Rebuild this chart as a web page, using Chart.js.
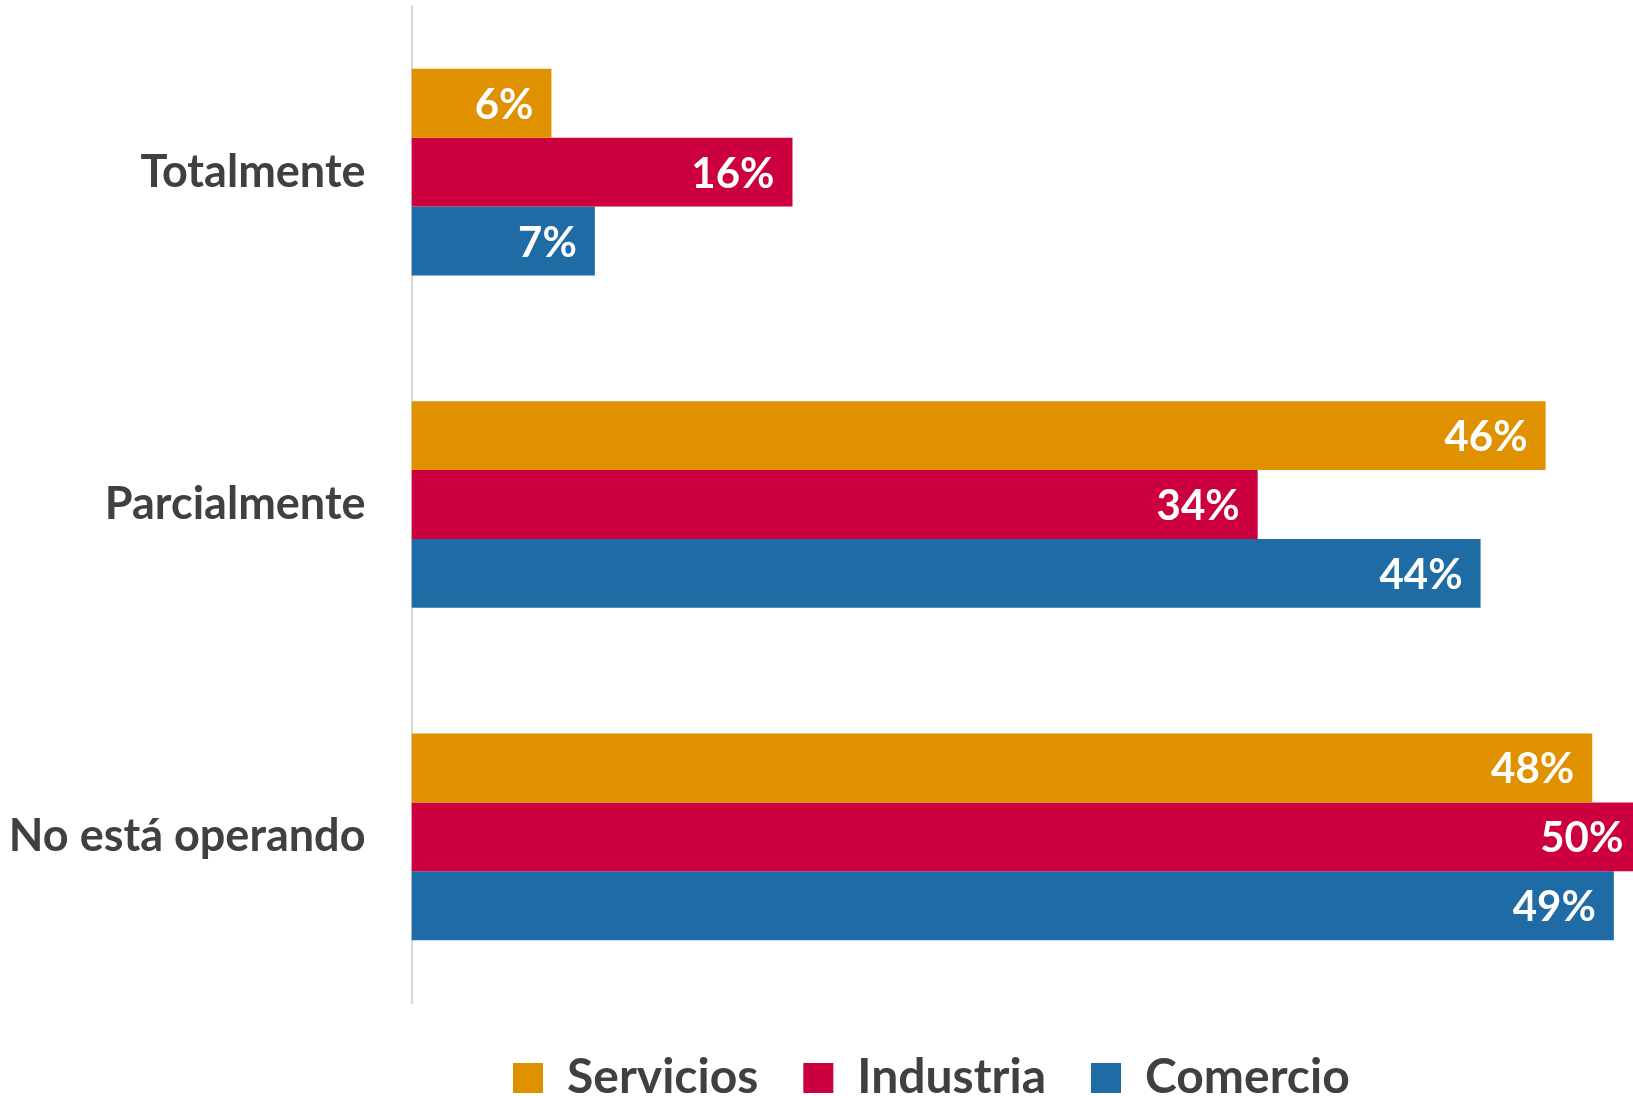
<!DOCTYPE html>
<html>
<head>
<meta charset="utf-8">
<script src="https://cdn.jsdelivr.net/npm/chart.js@4.4.1/dist/chart.umd.min.js"></script>
<style>
  html, body { margin: 0; padding: 0; background: #ffffff; }
  #wrap { width: 1633px; height: 1096px; position: relative; }
</style>
</head>
<body>
<div id="wrap"><canvas id="c" width="1633" height="1096"></canvas></div>
<script>
const categories = ["Totalmente", "Parcialmente", "No está operando"];
const seriesNames = ["Servicios", "Industria", "Comercio"];
const servicios = [5.7, 46.2, 48.1];
const industria = [15.52, 34.47, 50.1];
const comercio = [7.47, 43.55, 48.98];
const seriesColors = ["#E09100", "#CC003F", "#1F6BA5"];

const FONT = "Lato, 'Open Sans', sans-serif";
const TEXT = "#404040";

const valueLabels = {
  id: "valueLabels",
  afterDatasetsDraw(chart) {
    const ctx = chart.ctx;
    ctx.save();
    ctx.font = "bold 42px " + FONT;
    ctx.fillStyle = "#ffffff";
    ctx.textAlign = "right";
    ctx.textBaseline = "middle";
    chart.data.datasets.forEach((ds, di) => {
      const meta = chart.getDatasetMeta(di);
      meta.data.forEach((el, i) => {
        const txt = Math.round(ds.data[i]) + "%";
        ctx.fillText(txt, el.x - 18, el.y + 2);
      });
    });
    ctx.restore();
  }
};

const legendShift = {
  id: "legendShift",
  afterLayout(chart) {
    const lg = chart.legend;
    if (!lg) return;
    const pad = chart.options.plugins.legend.labels.padding;
    const fs = chart.options.plugins.legend.labels.font.size;
    const bh = chart.options.plugins.legend.labels.boxHeight;
    lg.left = 513 - pad;
    lg.right = 1633;
    lg.width = lg.right - lg.left;
    lg.top = 1063 - (fs - bh) / 2 - pad;
    lg.bottom = 1096;
    lg.height = lg.bottom - lg.top;
  }
};

new Chart(document.getElementById("c"), {
  type: "bar",
  data: {
    labels: categories,
    datasets: [
      { label: seriesNames[0], data: servicios, backgroundColor: seriesColors[0], borderWidth: 0 },
      { label: seriesNames[1], data: industria, backgroundColor: seriesColors[1], borderWidth: 0 },
      { label: seriesNames[2], data: comercio, backgroundColor: seriesColors[2], borderWidth: 0 }
    ]
  },
  options: {
    indexAxis: "y",
    responsive: false,
    animation: false,
    devicePixelRatio: 1,
    categoryPercentage: 0.622,
    barPercentage: 1.0,
    layout: { padding: { top: 6, right: 0, left: 0, bottom: -10 } },
    scales: {
      x: {
        display: false,
        min: 0,
        max: 49.76
      },
      y: {
        grid: { display: false, drawTicks: false },
        border: { display: true, color: "#D9D9D9", width: 2 },
        ticks: {
          font: { family: FONT, size: 45, weight: "bold" },
          color: TEXT,
          padding: 46
        },
        afterFit(scale) {
          scale.width = 411.5;
          scale.paddingTop = 0;
          scale.paddingBottom = 0;
        }
      }
    },
    plugins: {
      legend: {
        position: "bottom",
        align: "start",
        labels: {
          font: { family: FONT, size: 48, weight: "bold" },
          color: TEXT,
          boxWidth: 30,
          boxHeight: 30,
          padding: 45
        }
      },
      tooltip: { enabled: false }
    }
  },
  plugins: [valueLabels, legendShift]
});
</script>
</body>
</html>
